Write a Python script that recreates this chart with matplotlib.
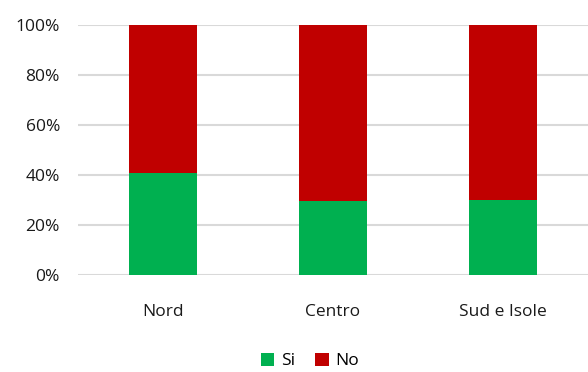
import numpy as np
import matplotlib.pyplot as plt
from matplotlib.ticker import PercentFormatter

plt.rcParams['font.family'] = ['Open Sans', 'DejaVu Sans']

regions = ["Nord", "Centro", "Sud e Isole"]
si = [40.6, 29.4, 29.8]
no = [100 - v for v in si]

green = "#00B050"
red = "#C00000"

fig = plt.figure(figsize=(5.88, 3.72), dpi=100)
ax = fig.add_axes([0.1327, 0.2608, 0.8673, 0.672])

x = np.arange(len(regions))
width = 0.40
ax.bar(x, si, width, color=green, label="Si", zorder=3)
ax.bar(x, no, width, bottom=si, color=red, label="No", zorder=3)

ax.set_xlim(-0.5, 2.5)
ax.set_ylim(0, 100)
ax.set_yticks(np.arange(0, 101, 20))
ax.yaxis.set_major_formatter(PercentFormatter(decimals=0))
ax.set_xticks(x)
ax.set_xticklabels(regions)
ax.yaxis.grid(True, color="#d9d9d9", linewidth=1.5, zorder=0)
ax.set_axisbelow(True)
for s in ax.spines.values():
    s.set_visible(False)
ax.tick_params(axis="both", length=0, labelsize=12.5, colors="#1a1a1a")
ax.tick_params(axis="x", pad=21)
ax.tick_params(axis="y", pad=13)

fig.legend(loc="center", bbox_to_anchor=(0.527, 0.03), ncol=2, frameon=False,
           fontsize=12.5, handlelength=0.8, handleheight=0.8, handletextpad=0.4,
           columnspacing=1.1, borderpad=0.2)

fig.savefig("out.png", dpi=100)
